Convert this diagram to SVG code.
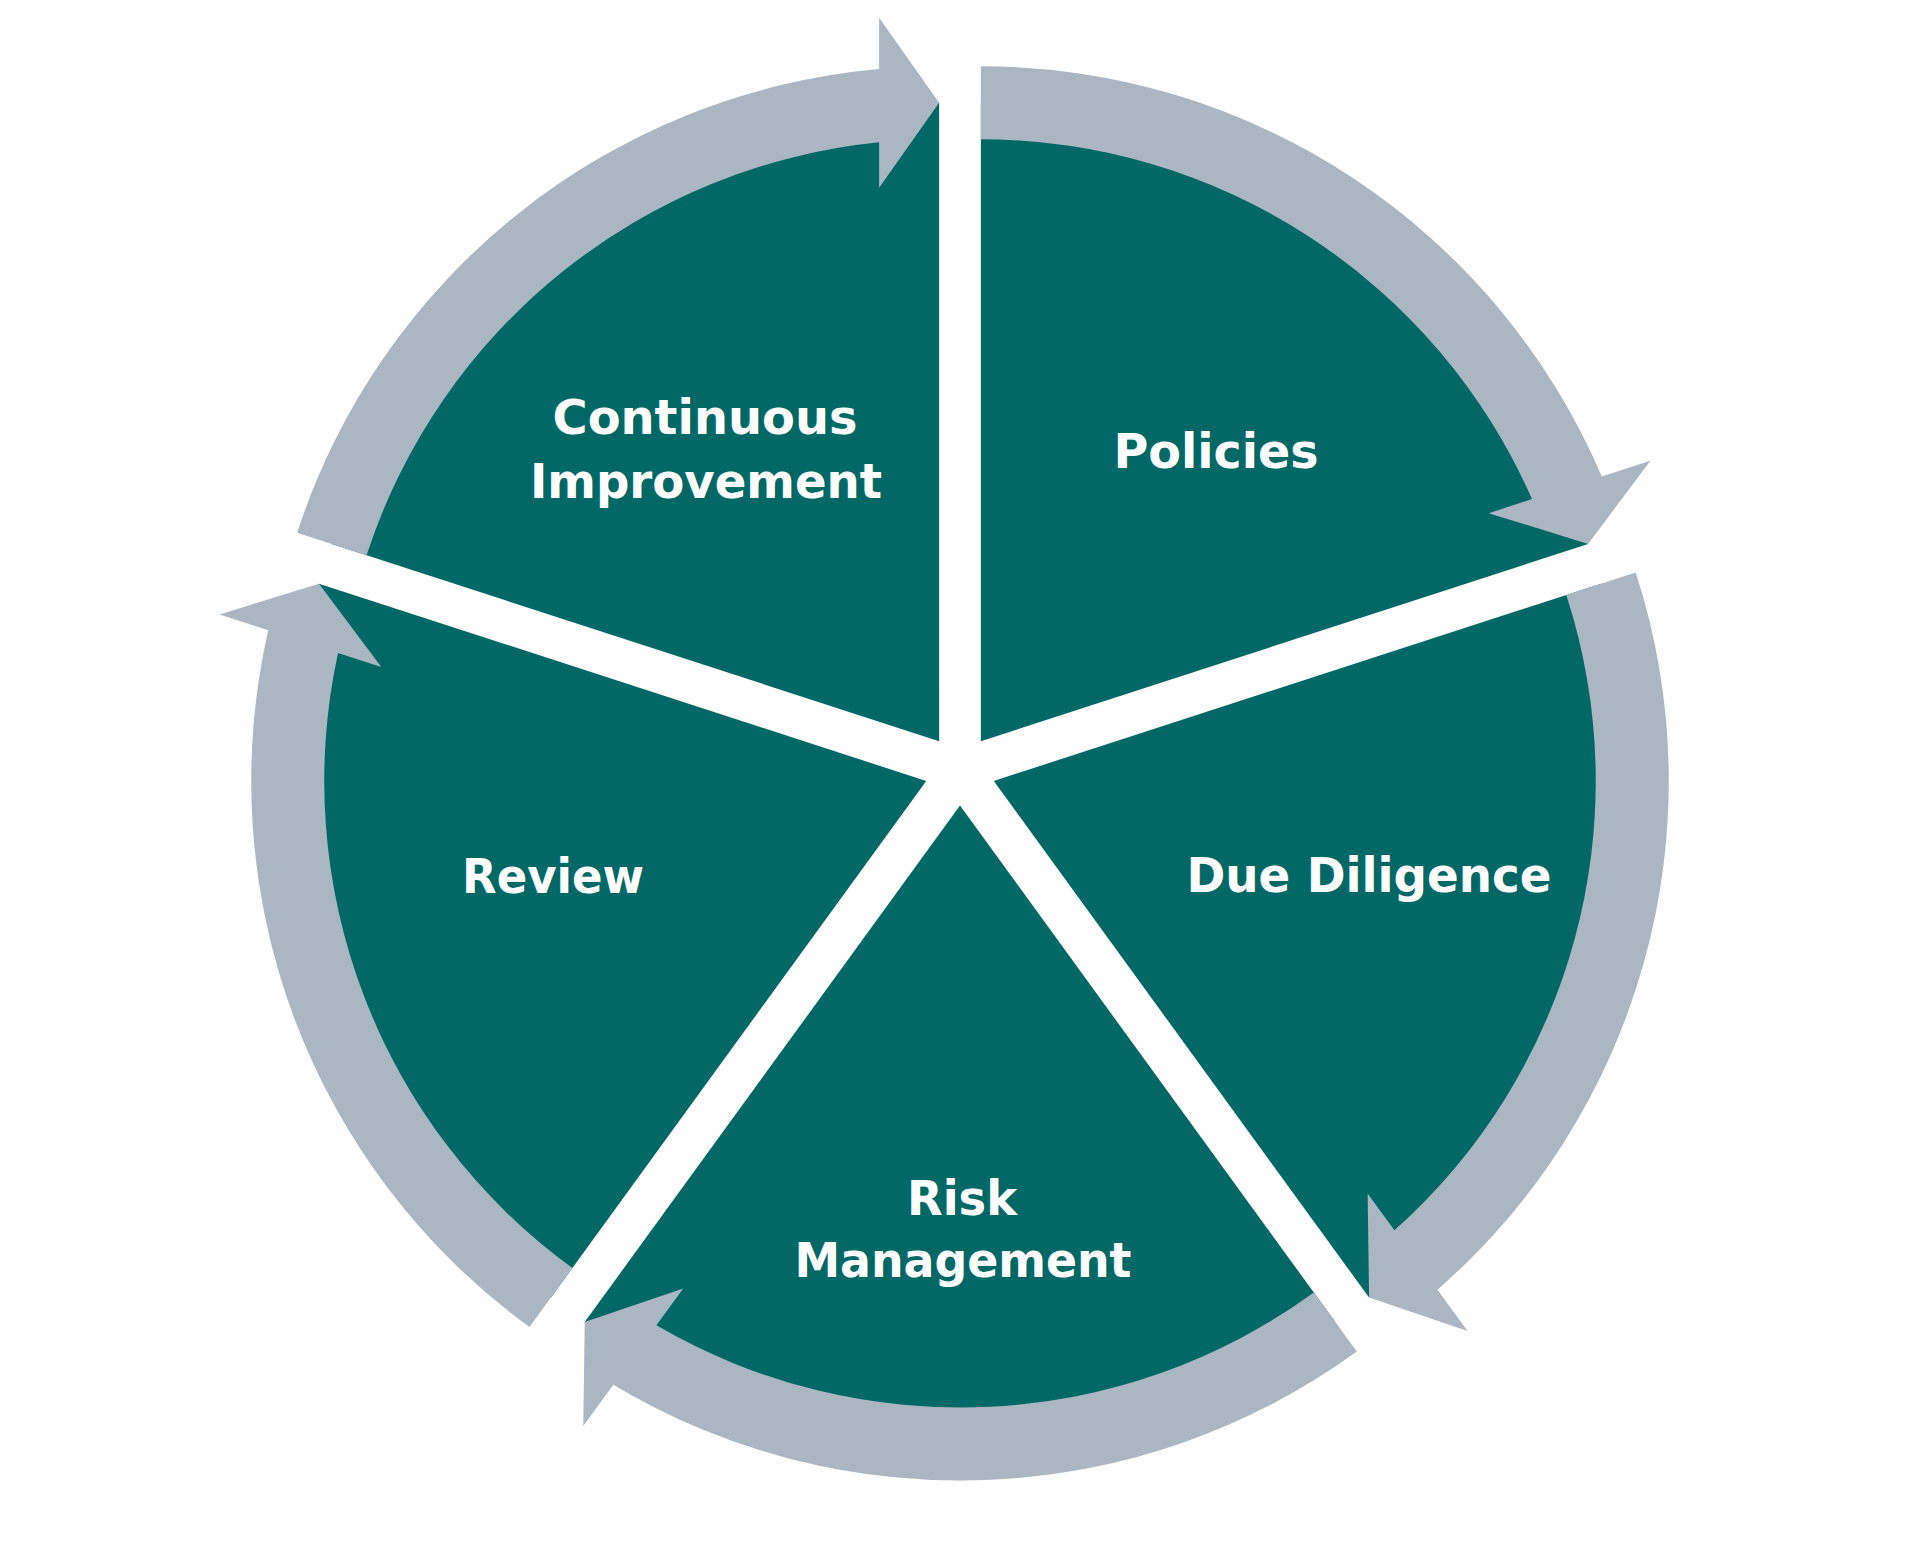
<svg xmlns="http://www.w3.org/2000/svg" width="1920" height="1545" viewBox="0 0 1920 1545">
  <style>
    .sector { fill: #026866; }
    .arrow { fill: #AAB6C2; }
    .label { font-family: "DejaVu Sans", "Liberation Sans", Arial, sans-serif; font-weight: bold; font-size: 48px; fill: #FFFFFF; text-anchor: middle; }
  </style>
  <defs>
    <path id="sectorShape" d="M960,734.5 L584.70,217.94 A638.5,638.5 0 0 1 1335.30,217.94 Z"/>
    <path id="arrowShape" d="M563.24,188.41 A675,675 0 0 1 1306.65,155.30 L1336.72,113.91 L1335.30,217.94 L1236.80,251.44 L1263.54,214.63 A602,602 0 0 0 606.15,247.47 Z"/>
  </defs>
  <rect x="0" y="0" width="1920" height="1545" fill="#FFFFFF"/>

  <g id="node-policies">
    <use href="#sectorShape" class="sector" transform="rotate(36 960 770)"/>
    <text class="label" x="1216" y="468" textLength="205" lengthAdjust="spacingAndGlyphs">Policies</text>
  </g>
  <g id="node-due-diligence">
    <use href="#sectorShape" class="sector" transform="rotate(108 960 770)"/>
    <text class="label" x="1369" y="892" textLength="365" lengthAdjust="spacingAndGlyphs">Due Diligence</text>
  </g>
  <g id="node-risk-management">
    <use href="#sectorShape" class="sector" transform="rotate(180 960 770)"/>
    <text class="label" x="962" y="1215" textLength="110" lengthAdjust="spacingAndGlyphs">Risk</text>
    <text class="label" x="963" y="1277" textLength="337" lengthAdjust="spacingAndGlyphs">Management</text>
  </g>
  <g id="node-review">
    <use href="#sectorShape" class="sector" transform="rotate(252 960 770)"/>
    <text class="label" x="553" y="893" textLength="182" lengthAdjust="spacingAndGlyphs">Review</text>
  </g>
  <g id="node-continuous-improvement">
    <use href="#sectorShape" class="sector" transform="rotate(324 960 770)"/>
    <text class="label" x="705" y="434" textLength="305" lengthAdjust="spacingAndGlyphs">Continuous</text>
    <text class="label" x="706" y="498" textLength="352" lengthAdjust="spacingAndGlyphs">Improvement</text>
  </g>

  <g id="connectors">
    <use href="#arrowShape" class="arrow" transform="rotate(36 960 770)"/>
    <use href="#arrowShape" class="arrow" transform="rotate(108 960 770)"/>
    <use href="#arrowShape" class="arrow" transform="rotate(180 960 770)"/>
    <use href="#arrowShape" class="arrow" transform="rotate(252 960 770)"/>
    <use href="#arrowShape" class="arrow" transform="rotate(324 960 770)"/>
  </g>
</svg>
